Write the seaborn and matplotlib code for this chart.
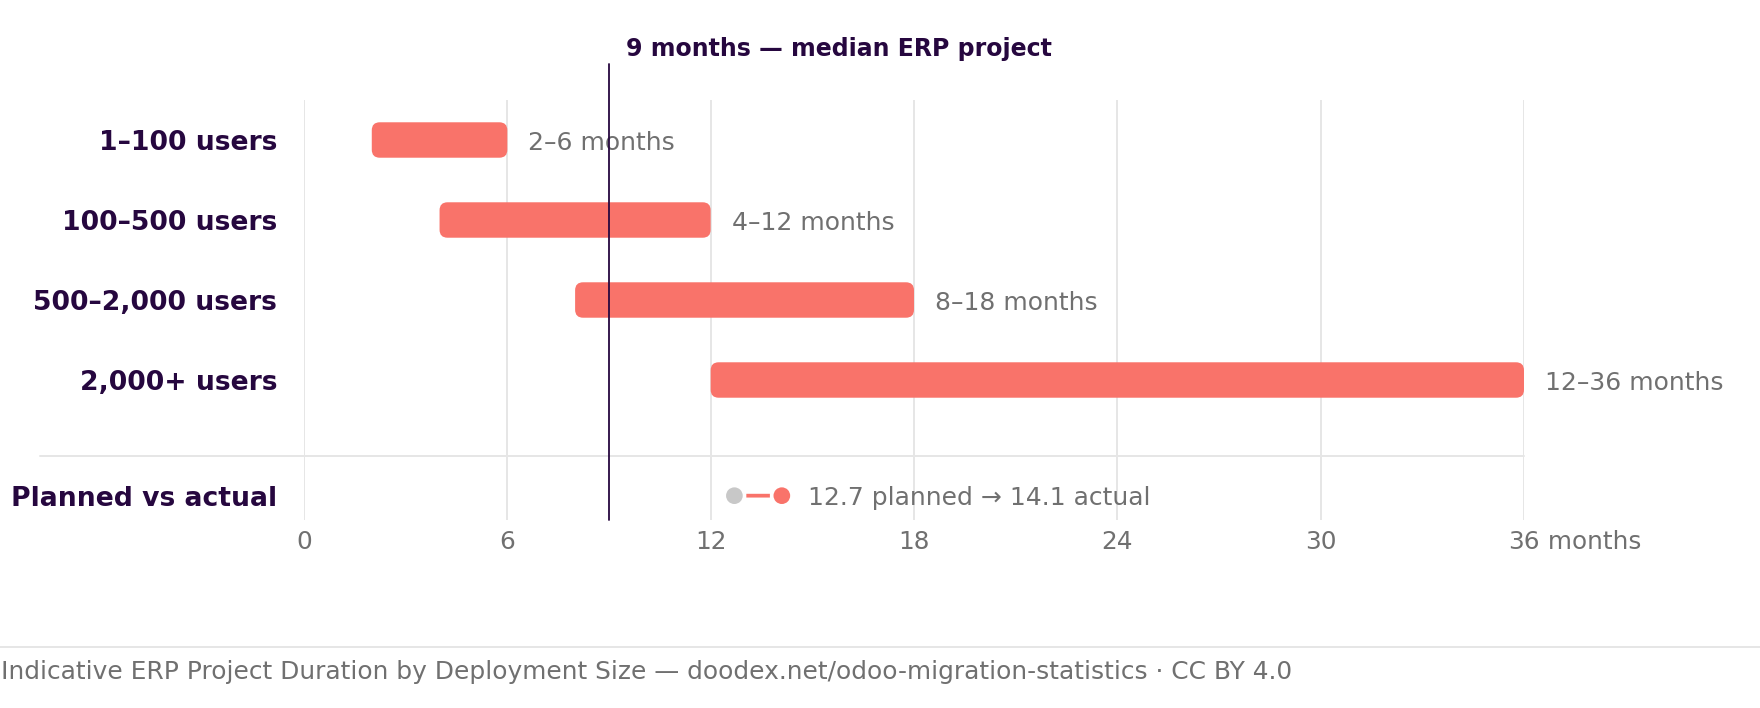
import numpy as np
import pandas as pd
import matplotlib
matplotlib.use("Agg")
import matplotlib.pyplot as plt
import matplotlib.transforms as mtransforms
from matplotlib.patches import FancyBboxPatch
import seaborn as sns

# ---------------- data ----------------
categories = ["1–100 users", "100–500 users", "500–2,000 users", "2,000+ users"]
start_months = [2, 4, 8, 12]
end_months = [6, 12, 18, 36]
bar_labels = ["2–6 months", "4–12 months", "8–18 months", "12–36 months"]

planned_label = "Planned vs actual"
planned_months = 12.7
actual_months = 14.1
planned_text = "12.7 planned → 14.1 actual"

median_months = 9
median_text = "9 months — median ERP project"

x_ticks = [0, 6, 12, 18, 24, 30, 36]
x_tick_labels = ["0", "6", "12", "18", "24", "30", "36"]
x_unit = "months"

footer_text = ("Indicative ERP Project Duration by Deployment Size — "
               "doodex.net/odoo-migration-statistics · CC BY 4.0")

# ---------------- style ----------------
W, H, DPI = 1760, 708, 100
CORAL = "#F9736A"
DARK = "#26073f"
GRAY_TXT = "#707070"
GRID = "#e6e6e6"
DOT_GRAY = "#c8c8c8"

FS_ROW = 19.2
FS_VAL = 18.0
FS_TICK = 17.8
FS_MED = 17.0
FS_FOOT = 17.9

sns.set_theme(style="white")
plt.rcParams["font.family"] = ["DejaVu Sans"]

fig = plt.figure(figsize=(W / DPI, H / DPI), dpi=DPI)
fig.patch.set_facecolor("white")
ax = fig.add_axes([304 / W, (H - 520) / H, 1220 / W, 420 / H])

rows = list(range(len(categories)))
planned_y = 4.446
sep_y = 3.946
bar_h = 0.443

# bars (rounded)
for i, (s, e) in enumerate(zip(start_months, end_months)):
    p = FancyBboxPatch((s, rows[i] - bar_h / 2), e - s, bar_h,
                       boxstyle="round,pad=0,rounding_size=0.236",
                       mutation_aspect=0.424,
                       fc=CORAL, ec="none", zorder=3)
    ax.add_patch(p)
    ax.annotate(bar_labels[i], xy=(e, rows[i]), xytext=(15, -7.2),
                textcoords="offset points", ha="left", va="baseline",
                fontsize=FS_VAL, color=GRAY_TXT, zorder=4)

# dumbbell planned vs actual
df = pd.DataFrame({"month": [planned_months, actual_months],
                   "y": [planned_y, planned_y],
                   "kind": ["planned", "actual"]})
sns.scatterplot(data=df, x="month", y="y", hue="kind",
                palette={"planned": DOT_GRAY, "actual": CORAL},
                s=144, edgecolor="none", legend=False, ax=ax, zorder=5)
ax.annotate("", xy=(actual_months, planned_y), xytext=(planned_months, planned_y),
            arrowprops=dict(arrowstyle="-", shrinkA=8.6, shrinkB=8.6,
                            lw=2.7, color=CORAL, capstyle="butt"),
            zorder=4)
ax.annotate(planned_text, xy=(actual_months, planned_y), xytext=(18.5, -7.0),
            textcoords="offset points", ha="left", va="baseline",
            fontsize=FS_VAL, color=GRAY_TXT)

# axes limits / ticks
ax.set_xlim(0, 36)
ax.set_ylim(4.75, -0.5)
ax.set_xlabel("")
ax.set_ylabel("")
ax.set_xticks(x_ticks)
ax.set_xticklabels(x_tick_labels)
ax.set_yticks(rows + [planned_y])
ax.set_yticklabels(categories + [planned_label])
ax.tick_params(axis="x", length=0, pad=7.0, labelsize=FS_TICK, labelcolor=GRAY_TXT)
ax.tick_params(axis="y", length=0, pad=19.4, labelsize=FS_ROW, labelcolor=DARK)
for lab in ax.get_yticklabels():
    lab.set_fontweight("bold")
for sp in ax.spines.values():
    sp.set_visible(False)
ax.grid(axis="x", color=GRID, lw=1.44, zorder=0)
ax.grid(axis="y", visible=False)
ax.set_axisbelow(True)

# unit after last tick
ax.annotate(" " + x_unit, xy=(x_ticks[-1], 0), xycoords=("data", "axes fraction"),
            xytext=(11.3, -7.0), textcoords="offset points",
            ha="left", va="top", fontsize=FS_TICK, color=GRAY_TXT,
            annotation_clip=False)

# separator line between groups and planned row
blend = mtransforms.blended_transform_factory(fig.transFigure, ax.transData)
ax.plot([40 / W, 1524 / W], [sep_y, sep_y], transform=blend, color=GRID,
        lw=1.44, clip_on=False, zorder=1)

# median line + label
ax.plot([median_months, median_months], [4.75, -0.95], color=DARK, lw=1.3,
        clip_on=False, zorder=6)
ax.annotate(median_text, xy=(median_months, -1.05), xytext=(12.2, 0),
            textcoords="offset points", ha="left", va="baseline",
            fontsize=FS_MED, fontweight="bold", color=DARK,
            annotation_clip=False)

# footer
fig.add_artist(plt.Line2D([0, 1], [(H - 647) / H, (H - 647) / H],
                          transform=fig.transFigure, color=GRID, lw=1.44))
fig.text(1 / W, (H - 679) / H, footer_text, ha="left", va="baseline",
         fontsize=FS_FOOT, color=GRAY_TXT)

fig.savefig("out.png", dpi=DPI, facecolor="white")
